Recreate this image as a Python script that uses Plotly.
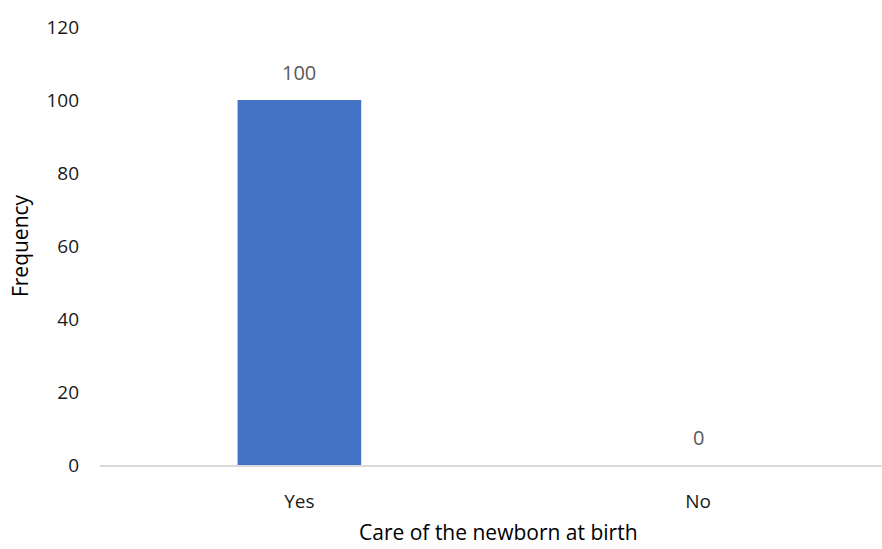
import plotly.graph_objects as go

# Newborn care at birth: counts per response
categories = ["Yes", "No"]
frequency = [100, 0]
y_ticks = [0, 20, 40, 60, 80, 100, 120]

FONT = "Open Sans"
BAR_COLOR = "#4472C4"

fig = go.Figure(
    go.Bar(
        x=categories,
        y=frequency,
        width=0.31,
        marker=dict(color=BAR_COLOR, line=dict(width=0)),
        hoverinfo="skip",
    )
)

# Value labels above each bar
for cat, val in zip(categories, frequency):
    fig.add_annotation(
        x=cat, y=val, xref="x", yref="y",
        text=str(val), showarrow=False,
        yanchor="bottom", yshift=12,
        font=dict(family=FONT, size=20, color="#595959"),
    )

# Axis title centred between the two categories
fig.add_annotation(
    x=0.5, xref="x", y=-0.153, yref="paper",
    text="Care of the newborn at birth", showarrow=False,
    yanchor="middle",
    font=dict(family=FONT, size=21, color="#000000"),
)

fig.update_layout(
    width=882, height=549,
    margin=dict(l=100, r=0, t=27, b=84),
    paper_bgcolor="white", plot_bgcolor="white",
    showlegend=False,
    font=dict(family=FONT, color="#000000"),
    xaxis=dict(
        range=[-0.5, 1.461],
        showgrid=False, zeroline=False,
        showline=True, linecolor="#D9D9D9", linewidth=1.5,
        ticks="", ticklabelstandoff=18,
        tickfont=dict(family=FONT, size=19, color="#1A1A1A"),
        fixedrange=True,
    ),
    yaxis=dict(
        range=[0, 120],
        tickvals=y_ticks,
        showgrid=False, zeroline=False, showline=False,
        ticks="", ticklabelstandoff=20,
        tickfont=dict(family=FONT, size=19, color="#1A1A1A"),
        title=dict(text="Frequency", standoff=12,
                   font=dict(family=FONT, size=21, color="#000000")),
        fixedrange=True,
    ),
)

fig.write_html("out.html")
